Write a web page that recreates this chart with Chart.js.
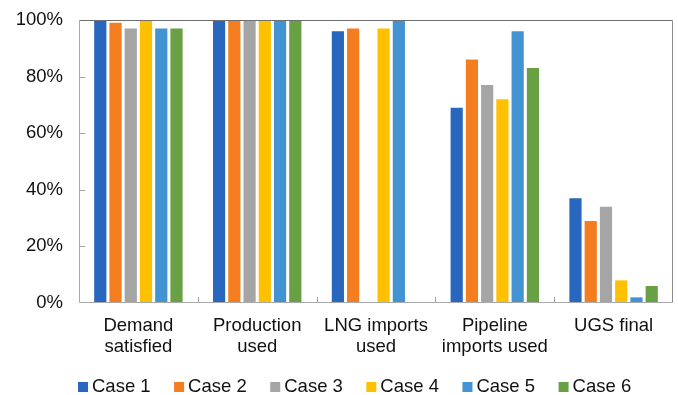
<!DOCTYPE html>
<html>
<head>
<meta charset="utf-8">
<script src="https://cdn.jsdelivr.net/npm/chart.js@4/dist/chart.umd.min.js"></script>
<style>
  html, body { margin: 0; padding: 0; background: #fff; }
  #wrap { width: 678px; height: 395px; position: relative; }
</style>
</head>
<body>
<div id="wrap"><canvas id="c"></canvas></div>
<script>
// Categories (multi-line labels) and the share reached by each case, in percent
const categories = [
  ['Demand', 'satisfied'],
  ['Production', 'used'],
  ['LNG imports', 'used'],
  ['Pipeline', 'imports used'],
  ['UGS final']
];
const caseNames = ['Case 1', 'Case 2', 'Case 3', 'Case 4', 'Case 5', 'Case 6'];
const case1 = [100, 100, 96, 69, 37];
const case2 = [99, 100, 97, 86, 29];
const case3 = [97, 100, null, 77, 34];
const case4 = [100, 100, 97, 72, 8];
const case5 = [97, 100, 100, 96, 2];
const case6 = [97, 100, null, 83, 6];
const yTicks = [0, 20, 40, 60, 80, 100];

const seriesValues = [case1, case2, case3, case4, case5, case6];
const caseColors = ['#2966BE', '#F47D20', '#A5A5A5', '#FFC000', '#4393D3', '#69A044'];

const FONT = "'Liberation Sans', Arial, sans-serif";
const FONT_SIZE = 18.5;

// Short inward tick marks, the plot frame and the legend row
const framePlugin = {
  id: 'frameAndLegend',
  afterDatasetsDraw(chart) {
    const { ctx, chartArea: a, scales } = chart;
    ctx.save();
    ctx.lineWidth = 1;
    // inward ticks on the value axis
    ctx.strokeStyle = '#A0A0A0';
    yTicks.forEach(v => {
      if (v === 0 || v === 100) return;
      const y = Math.round(scales.y.getPixelForValue(v)) + 0.5;
      ctx.beginPath();
      ctx.moveTo(a.left, y);
      ctx.lineTo(a.left + 6, y);
      ctx.stroke();
    });
    // category separators rising from the base line
    const n = categories.length;
    for (let i = 1; i < n; i++) {
      const x = Math.round((scales.x.getPixelForValue(i - 1) + scales.x.getPixelForValue(i)) / 2) + 0.5;
      ctx.beginPath();
      ctx.moveTo(x, a.bottom);
      ctx.lineTo(x, a.bottom - 6);
      ctx.stroke();
    }
    // frame
    const L = Math.round(a.left) + 0.5, R = Math.round(a.right) - 0.5;
    const T = Math.round(a.top) + 0.5, B = Math.round(a.bottom) - 0.5;
    ctx.strokeStyle = '#6E6E6E';
    ctx.beginPath(); ctx.moveTo(L, T); ctx.lineTo(R, T); ctx.stroke();
    ctx.strokeStyle = '#8C8C8C';
    ctx.beginPath(); ctx.moveTo(R, T); ctx.lineTo(R, B); ctx.stroke();
    ctx.strokeStyle = '#A8A8A8';
    ctx.beginPath(); ctx.moveTo(L, T); ctx.lineTo(L, B); ctx.lineTo(R, B); ctx.stroke();

    // legend
    ctx.font = FONT_SIZE + 'px ' + FONT;
    ctx.textBaseline = 'alphabetic';
    ctx.textAlign = 'left';
    const box = 10, gap = 4, spacing = 23.5;
    const baseline = chart.height - 3;
    let x = a.left - 1;
    chart.data.datasets.forEach(ds => {
      ctx.fillStyle = ds.backgroundColor;
      ctx.fillRect(x, baseline - box, box, box);
      ctx.fillStyle = '#111111';
      ctx.fillText(ds.label, x + box + gap, baseline);
      x += box + gap + ctx.measureText(ds.label).width + spacing;
    });
    ctx.restore();
  }
};

new Chart(document.getElementById('c'), {
  type: 'bar',
  data: {
    labels: categories,
    datasets: caseNames.map((name, i) => ({
      label: name,
      data: seriesValues[i],
      backgroundColor: caseColors[i],
      borderWidth: 0,
      barPercentage: 0.8,
      categoryPercentage: 0.77
    }))
  },
  options: {
    responsive: true,
    maintainAspectRatio: false,
    animation: false,
    layout: { padding: { left: 0, right: 5, top: 20, bottom: 30 } },
    plugins: {
      legend: { display: false },
      tooltip: { enabled: false }
    },
    scales: {
      x: {
        grid: { display: false, drawTicks: false },
        border: { display: false },
        ticks: {
          color: '#111111',
          padding: 12,
          maxRotation: 0,
          autoSkip: false,
          font: { family: FONT, size: FONT_SIZE, lineHeight: 1.15 }
        },
        afterFit(scale) { scale.height = 62; scale.paddingLeft = 0; scale.paddingRight = 0; }
      },
      y: {
        min: 0,
        max: 100,
        grid: { display: false, drawTicks: false },
        border: { display: false },
        afterBuildTicks(scale) { scale.ticks = yTicks.map(v => ({ value: v })); },
        ticks: {
          color: '#111111',
          padding: 16,
          font: { family: FONT, size: FONT_SIZE },
          callback: v => v + '%'
        },
        afterFit(scale) { scale.width = 79; scale.paddingTop = 0; scale.paddingBottom = 0; }
      }
    }
  },
  plugins: [framePlugin]
});
</script>
</body>
</html>
